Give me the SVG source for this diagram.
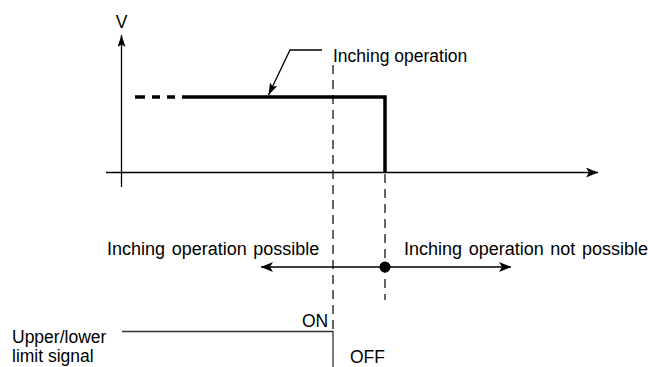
<svg xmlns="http://www.w3.org/2000/svg" width="648" height="367" viewBox="0 0 648 367">
  <style>
    text { font-family: "Liberation Sans", Arial, sans-serif; font-size: 17.5px; fill: #000; }
    .wide { font-size: 18px; word-spacing: 1.6px; }
    .ax { stroke: #000; stroke-width: 1.3; fill: none; }
    .thick { stroke: #000; stroke-width: 3.5; fill: none; }
    .dash { stroke: #000; stroke-width: 1.2; stroke-dasharray: 9 6; fill: none; }
    .sig { stroke: #333; stroke-width: 1.3; fill: none; }
  </style>
  <defs>
    <marker id="ah" viewBox="0 0 12 10" refX="12" refY="5" markerWidth="12" markerHeight="10" markerUnits="userSpaceOnUse" orient="auto">
      <path d="M0,0 L12,5 L0,10 L3,5 Z" fill="#000"/>
    </marker>
    <marker id="ahv" viewBox="0 0 12 8" refX="12" refY="4" markerWidth="12" markerHeight="8" markerUnits="userSpaceOnUse" orient="auto">
      <path d="M0,0 L12,4 L0,8 L2.5,4 Z" fill="#000"/>
    </marker>
  </defs>
  <rect width="648" height="367" fill="#fff"/>
  <g id="axes">
    <line class="ax" x1="121.5" y1="187" x2="121.5" y2="35" marker-end="url(#ahv)"/>
    <line class="ax" x1="106" y1="172.5" x2="598" y2="172.5" marker-end="url(#ah)"/>
    <text x="121.5" y="28" text-anchor="middle">V</text>
  </g>
  <g id="inching-profile">
    <line class="thick" x1="135" y1="97" x2="145" y2="97"/>
    <line class="thick" x1="152" y1="97" x2="160" y2="97"/>
    <line class="thick" x1="167" y1="97" x2="175" y2="97"/>
    <polyline class="thick" points="182,97 385,97 385,172.5"/>
  </g>
  <g id="inching-label">
    <text x="333" y="61.5">Inching operation</text>
  </g>
  <g id="region-labels">
    <text class="wide" x="107" y="255">Inching operation possible</text>
    <text class="wide" x="404" y="255">Inching operation not possible</text>
  </g>
  <g id="signal">
    <polyline class="sig" points="122,331.5 333,331.5 333,367"/>
    <text x="302" y="326.5">ON</text>
    <text x="350" y="363">OFF</text>
    <text x="12" y="343">Upper/lower</text>
    <text x="12" y="362">limit signal</text>
  </g>
  <g id="limit-point">
    <circle cx="385" cy="267" r="5.5" fill="#000"/>
  </g>
  <g id="connectors">
    <polyline class="ax" points="322,50 290,50 268.5,95" marker-end="url(#ahv)"/>
    <line class="dash" x1="333" y1="65" x2="333" y2="331"/>
    <line class="dash" x1="385" y1="174" x2="385" y2="300"/>
    <line class="ax" x1="385" y1="267" x2="261" y2="267" stroke-width="1.6" marker-end="url(#ah)"/>
    <line class="ax" x1="385" y1="267" x2="511" y2="267" stroke-width="1.6" marker-end="url(#ah)"/>
  </g>
</svg>
